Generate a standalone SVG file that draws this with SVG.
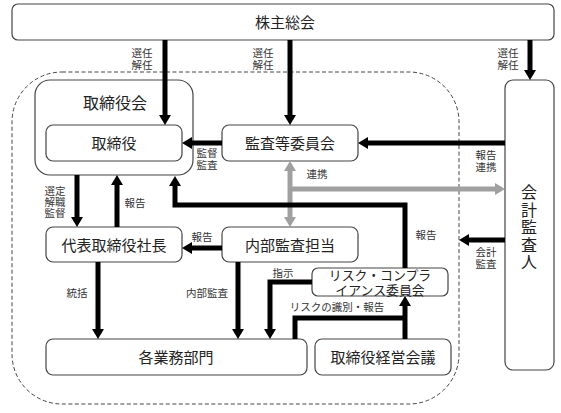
<svg xmlns="http://www.w3.org/2000/svg" width="561" height="413" viewBox="0 0 561 413" lang="ja">
<style>
.bx{fill:#fff;stroke:#444;stroke-width:1.2}
.t{font-family:"Noto Sans CJK JP","Noto Sans",sans-serif;fill:#222;text-anchor:middle}
.big{font-size:15px}
.sm{font-family:"Liberation Sans","Noto Sans CJK JP",sans-serif;font-size:10.5px;fill:#333}
.ln{fill:none;stroke:#000;stroke-width:5}
.gl{fill:none;stroke:#a0a0a0;stroke-width:5}
</style>
<defs>
<marker id="ab" viewBox="0 0 10 12" refX="0" refY="6" markerWidth="10" markerHeight="12" markerUnits="userSpaceOnUse" orient="auto"><path d="M0,0 L10,6 L0,12 z" fill="#000"/></marker>
<marker id="ag" viewBox="0 0 10 12" refX="0" refY="6" markerWidth="10" markerHeight="12" markerUnits="userSpaceOnUse" orient="auto-start-reverse"><path d="M0,0 L10,6 L0,12 z" fill="#a0a0a0"/></marker>
</defs>
<rect x="12" y="72" width="447" height="332" rx="50" ry="50" fill="none" stroke="#444" stroke-width="1" stroke-dasharray="4,2.5"/>
<g id="shareholders"><rect class="bx" x="12" y="4" width="542" height="36" rx="6"/><text class="t big" x="285" y="27.5">株主総会</text></g>
<g id="board"><rect class="bx" x="35" y="80" width="158" height="95" rx="15"/><text class="t big" x="115" y="109" style="font-size:16px">取締役会</text></g>
<g id="director"><rect class="bx" x="46" y="125" width="136" height="36" rx="7"/><text class="t big" x="114" y="148.5">取締役</text></g>
<g id="audit-committee"><rect class="bx" x="222" y="125" width="136" height="36" rx="7"/><text class="t big" x="290" y="148.5">監査等委員会</text></g>
<g id="accounting-auditor"><rect class="bx" x="505" y="80" width="49" height="290" rx="8"/>
<text class="t" style="font-size:16px;text-anchor:start;writing-mode:vertical-rl;letter-spacing:1.5px" x="529" y="184">会計監査人</text></g>
<g id="president"><rect class="bx" x="46" y="227" width="136" height="35" rx="7"/><text class="t big" x="114" y="250.5">代表取締役社長</text></g>
<g id="internal-audit"><rect class="bx" x="222" y="227" width="136" height="35" rx="7"/><text class="t big" x="290" y="250.5">内部監査担当</text></g>
<g id="risk-committee"><rect class="bx" x="312" y="268" width="136" height="28" rx="6"/><text class="t" style="font-family:'Liberation Sans','Noto Sans CJK JP',sans-serif;font-size:12.9px" x="380" y="280"><tspan x="380">リスク・コンプラ</tspan><tspan x="380" dy="14.5">イアンス委員会</tspan></text></g>
<g id="departments"><rect class="bx" x="46" y="339" width="261" height="36" rx="7"/><text class="t big" x="176" y="362.5">各業務部門</text></g>
<g id="management-meeting"><rect class="bx" x="315" y="339" width="136" height="36" rx="7"/><text class="t big" x="383" y="362.5">取締役経営会議</text></g>
<g id="connectors">
<path class="ln" d="M165,40 V115" marker-end="url(#ab)"/>
<path class="ln" d="M290,40 V115" marker-end="url(#ab)"/>
<path class="ln" d="M530,40 V70" marker-end="url(#ab)"/>
<path class="ln" d="M222,143 H192" marker-end="url(#ab)"/>
<path class="ln" d="M505,143 H368" marker-end="url(#ab)"/>
<path class="gl" d="M290,171 V217" marker-start="url(#ag)" marker-end="url(#ag)"/>
<path class="gl" d="M288,189 H495" marker-end="url(#ag)"/>
<path class="ln" d="M505,240 H469" marker-end="url(#ab)"/>
<path class="ln" d="M77,175 V217" marker-end="url(#ab)"/>
<path class="ln" d="M117,227 V185" marker-end="url(#ab)"/>
<path class="ln" d="M222,248 H192" marker-end="url(#ab)"/>
<path class="ln" d="M405,268 V205 H175 V186" marker-end="url(#ab)"/>
<path class="ln" d="M98,262 V329" marker-end="url(#ab)"/>
<path class="ln" d="M238,262 V329" marker-end="url(#ab)"/>
<path class="ln" d="M312,282 H270 V329" marker-end="url(#ab)"/>
<path class="ln" d="M295,339 V318 H405"/>
<path class="ln" d="M405,339 V306" marker-end="url(#ab)"/>
<text class="t sm" x="142" y="57"><tspan x="142">選任</tspan><tspan x="142" dy="12">解任</tspan></text>
<text class="t sm" x="263" y="57"><tspan x="263">選任</tspan><tspan x="263" dy="12">解任</tspan></text>
<text class="t sm" x="508" y="57"><tspan x="508">選任</tspan><tspan x="508" dy="12">解任</tspan></text>
<text class="t sm" x="207" y="157"><tspan x="207">監督</tspan><tspan x="207" dy="11.5">監査</tspan></text>
<text class="t sm" x="486" y="159"><tspan x="486">報告</tspan><tspan x="486" dy="11.5">連携</tspan></text>
<text class="t sm" x="317" y="178">連携</text>
<text class="t sm" x="426" y="239">報告</text>
<text class="t sm" x="486" y="256"><tspan x="486">会計</tspan><tspan x="486" dy="11.5">監査</tspan></text>
<text class="t sm" x="55" y="194.5"><tspan x="55">選定</tspan><tspan x="55" dy="11">解職</tspan><tspan x="55" dy="11">監督</tspan></text>
<text class="t sm" x="135" y="207">報告</text>
<text class="t sm" x="202" y="241">報告</text>
<text class="t sm" x="77" y="297">統括</text>
<text class="t sm" x="207" y="297">内部監査</text>
<text class="t sm" x="283" y="277">指示</text>
<text class="t sm" x="337" y="311">リスクの識別・報告</text>
</g>
</svg>
